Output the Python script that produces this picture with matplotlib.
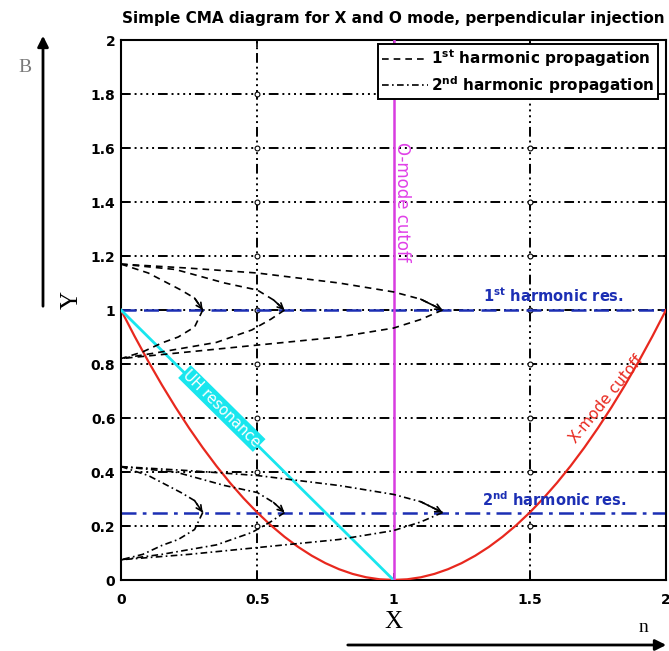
import numpy as np
import matplotlib
matplotlib.use("Agg")
import matplotlib.pyplot as plt
import matplotlib.patches as mpatches

# ---------------- data ----------------
# X-mode cutoff (red)
xcut_x = [0.0, 0.05, 0.1, 0.15, 0.2, 0.25, 0.3, 0.35, 0.4, 0.45, 0.5,
          0.55, 0.6, 0.65, 0.7, 0.75, 0.8, 0.85, 0.9, 0.95, 1.0,
          1.05, 1.1, 1.15, 1.2, 1.25, 1.3, 1.35, 1.4, 1.45, 1.5,
          1.55, 1.6, 1.65, 1.7, 1.75, 1.8, 1.85, 1.9, 1.95, 2.0]
xcut_y = [1.0, 0.9025, 0.81, 0.7225, 0.64, 0.5625, 0.49, 0.4225, 0.36, 0.3025, 0.25,
          0.2025, 0.16, 0.1225, 0.09, 0.0625, 0.04, 0.0225, 0.01, 0.0025, 0.0,
          0.0025, 0.01, 0.0225, 0.04, 0.0625, 0.09, 0.1225, 0.16, 0.2025, 0.25,
          0.3025, 0.36, 0.4225, 0.49, 0.5625, 0.64, 0.7225, 0.81, 0.9025, 1.0]
# cyan line
cyan_x = [0.0, 1.0]
cyan_y = [1.0, 0.0]
# O-mode cutoff (magenta)
ocut_x = [1.0, 1.0]
ocut_y = [0.0, 2.0]
# resonances
res1_y = 1.0
res2_y = 0.25

# 1st harmonic propagation rays (upper leg to resonance, lower leg back)
h1_up = [
    ([0.0, 0.10, 0.22, 0.27, 0.30], [1.17, 1.137, 1.074, 1.044, 1.0]),
    ([0.0, 0.20, 0.38, 0.50, 0.56, 0.60], [1.17, 1.15, 1.10, 1.074, 1.037, 1.0]),
    ([0.0, 0.25, 0.50, 0.80, 1.00, 1.10, 1.18], [1.17, 1.155, 1.137, 1.10, 1.067, 1.04, 1.0]),
]
h1_down = [
    ([0.30, 0.27, 0.21, 0.15, 0.08, 0.0], [1.0, 0.937, 0.90, 0.878, 0.845, 0.82]),
    ([0.60, 0.55, 0.48, 0.35, 0.15, 0.0], [1.0, 0.966, 0.926, 0.88, 0.845, 0.82]),
    ([1.18, 1.10, 1.00, 0.80, 0.50, 0.25, 0.0], [1.0, 0.965, 0.933, 0.90, 0.87, 0.845, 0.82]),
]
# 2nd harmonic propagation rays
h2_up = [
    ([0.0, 0.10, 0.22, 0.27, 0.30], [0.42, 0.387, 0.324, 0.294, 0.25]),
    ([0.0, 0.20, 0.38, 0.50, 0.56, 0.60], [0.42, 0.40, 0.35, 0.324, 0.287, 0.25]),
    ([0.0, 0.25, 0.50, 0.80, 1.00, 1.10, 1.18], [0.42, 0.405, 0.387, 0.35, 0.317, 0.29, 0.25]),
]
h2_down = [
    ([0.30, 0.27, 0.21, 0.15, 0.08, 0.0], [0.25, 0.187, 0.15, 0.128, 0.095, 0.075]),
    ([0.60, 0.55, 0.48, 0.35, 0.15, 0.0], [0.25, 0.216, 0.176, 0.13, 0.095, 0.075]),
    ([1.18, 1.10, 1.00, 0.80, 0.50, 0.25, 0.0], [0.25, 0.215, 0.183, 0.15, 0.12, 0.095, 0.075]),
]

xticks = [0, 0.5, 1, 1.5, 2]
xticklabels = ["0", "0.5", "1", "1.5", "2"]
yticks = [0, 0.2, 0.4, 0.6, 0.8, 1, 1.2, 1.4, 1.6, 1.8, 2]
yticklabels = ["0", "0.2", "0.4", "0.6", "0.8", "1", "1.2", "1.4", "1.6", "1.8", "2"]

title = "Simple CMA diagram for X and O mode, perpendicular injection"

# ---------------- figure ----------------
W, H = 669, 651
fig = plt.figure(figsize=(W / 100, H / 100), dpi=100)
ax = fig.add_axes([121 / W, 71 / H, 545 / W, 540 / H])
ax.set_xlim(0, 2)
ax.set_ylim(0, 2)

sans = "DejaVu Sans"
serif = "Liberation Serif"
blue = "#1c2fb4"

# grid (MATLAB-like dash-dot-dot)
grid_ls = (0, (5, 2, 1, 2, 1, 2, 1, 2, 1, 2))
for yv in yticks[1:-1]:
    ax.axhline(yv, color="black", lw=1.4, ls=grid_ls, zorder=1)
for xv in [0.5, 1.5]:
    ax.axvline(xv, color="black", lw=1.4, ls=grid_ls, zorder=1)
gx, gy = np.meshgrid([0.5, 1.5], yticks[1:-1])
ax.plot(gx.ravel(), gy.ravel(), ls="none", marker="o", ms=3.5, mfc="white",
        mec="black", mew=0.8, zorder=1.5)

# cutoffs
ax.plot(xcut_x, xcut_y, color="#e8281e", lw=1.6, zorder=3)
ax.plot(cyan_x, cyan_y, color="#19e6ee", lw=2.0, zorder=3)
ax.plot(ocut_x, ocut_y, color="#d83ce0", lw=1.8, zorder=3)

# resonances
ax.axhline(res1_y, color=blue, lw=1.8, ls=(0, (6, 3)), zorder=2)
ax.axhline(res2_y, color=blue, lw=1.8, ls=(0, (6, 2.5, 1.5, 2.5)), zorder=2)

# rays
def draw_rays(ups, downs, ls):
    for (ux, uy), (dx, dy) in zip(ups, downs):
        ax.plot(ux, uy, color="black", lw=1.2, ls=ls, zorder=4)
        ax.plot(dx, dy, color="black", lw=1.2, ls=ls, zorder=4)
        ax.annotate("", xy=(ux[-1], uy[-1]), xytext=(ux[-2], uy[-2]),
                    arrowprops=dict(arrowstyle="->", color="black", lw=1.2,
                                    shrinkA=0, shrinkB=0, mutation_scale=10),
                    zorder=4)

draw_rays(h1_up, h1_down, (0, (4, 3)))
draw_rays(h2_up, h2_down, (0, (4, 2, 1, 2)))

# legend proxies
ax.plot([], [], color="black", lw=1.2, ls=(0, (4, 3)),
        label="1$^{\\mathbf{st}}$ harmonic propagation")
ax.plot([], [], color="black", lw=1.2, ls=(0, (4, 2, 1, 2)),
        label="2$^{\\mathbf{nd}}$ harmonic propagation")
leg = ax.legend(loc="upper right", bbox_to_anchor=(0.985, 0.993), fancybox=False,
                edgecolor="black", framealpha=1, handlelength=3.0, borderpad=0.25,
                labelspacing=0.3, handletextpad=0.2, borderaxespad=0.0,
                prop={"family": sans, "weight": "bold", "size": 11})
leg.get_frame().set_linewidth(1.4)
leg.set_zorder(10)

# labels on curves
ax.text(1.585, 1.02, "1$^{\\mathbf{st}}$ harmonic res.", color=blue, fontsize=10.5,
        fontfamily=sans, fontweight="bold", ha="center", va="bottom", zorder=5)
ax.text(1.59, 0.262, "2$^{\\mathbf{nd}}$ harmonic res.", color=blue, fontsize=10.5,
        fontfamily=sans, fontweight="bold", ha="center", va="bottom", zorder=5)
ax.text(1.03, 1.40, "O-mode cutoff", color="#e040e8", fontsize=12, fontfamily=sans,
        rotation=-90, ha="center", va="center", zorder=5)
ax.text(1.78, 0.67, "X-mode cutoff", color="#e8281e", fontsize=11, fontfamily=sans,
        rotation=51, ha="center", va="center", zorder=5, rotation_mode="anchor")
ax.text(0.37, 0.635, "UH resonance", color="white", fontsize=10.5, fontfamily=sans,
        rotation=-44.7, ha="center", va="center", zorder=5, rotation_mode="anchor",
        bbox=dict(boxstyle="square,pad=0.1", fc="#19e6ee", ec="none"))

# axes styling
ax.set_xticks(xticks)
ax.set_xticklabels(xticklabels)
ax.set_yticks(yticks)
ax.set_yticklabels(yticklabels)
ax.tick_params(direction="in", length=5, width=1.2, top=True, right=True)
ax.tick_params(axis="x", pad=9)
ax.tick_params(axis="y", pad=4)
for lab in ax.get_xticklabels() + ax.get_yticklabels():
    lab.set_fontfamily(sans)
    lab.set_fontweight("bold")
    lab.set_fontsize(10)
for sp in ax.spines.values():
    sp.set_linewidth(1.5)

fig.text(393 / W, 1 - 19 / H, title, fontfamily=sans, fontweight="bold",
         fontsize=11, ha="center", va="center")

# outer labels and arrows
fig.text(393 / W, 1 - 622 / H, "X", fontfamily=serif, fontsize=18, ha="center", va="center")
fig.text(72 / W, 1 - 300 / H, "Y", fontfamily=serif, fontsize=18, ha="center",
         va="center", rotation=90)
fig.text(25 / W, 1 - 68 / H, "B", fontfamily=serif, fontsize=14, ha="center",
         va="center", color="#7a7a7a")
fig.text(643 / W, 1 - 628 / H, "n", fontfamily=serif, fontsize=14, ha="center", va="center")
fig.patches.append(mpatches.FancyArrowPatch(
    (43 / W, 1 - 309 / H), (43 / W, 1 - 33 / H), transform=fig.transFigure,
    arrowstyle="-|>", mutation_scale=16, lw=2, color="black"))
fig.patches.append(mpatches.FancyArrowPatch(
    (345 / W, 1 - 645 / H), (669 / W, 1 - 645 / H), transform=fig.transFigure,
    arrowstyle="-|>", mutation_scale=16, lw=2, color="black"))

fig.savefig("out.png", dpi=100)
